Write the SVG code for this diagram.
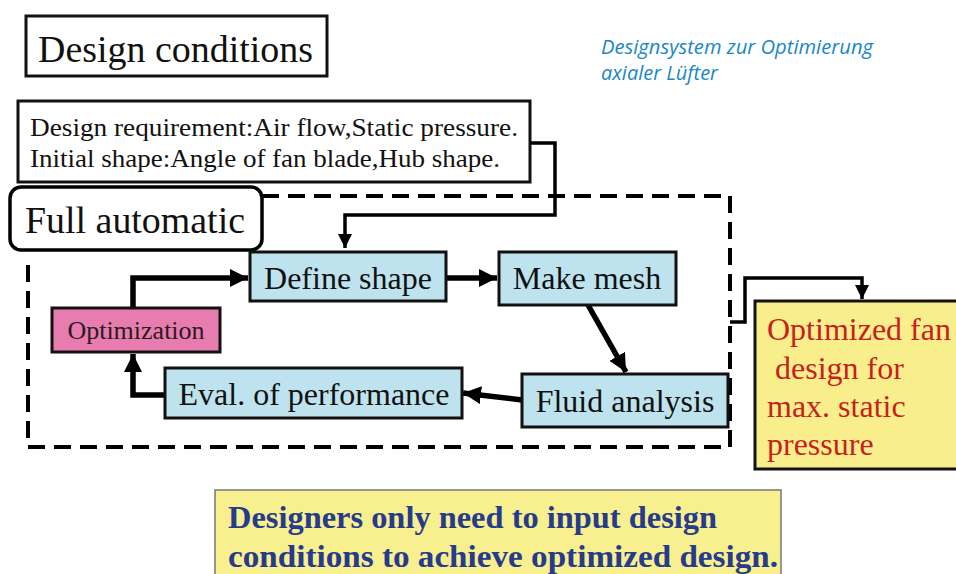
<svg xmlns="http://www.w3.org/2000/svg" width="956" height="574" viewBox="0 0 956 574">
<defs>
<style>
.serif{font-family:"Liberation Serif","Times New Roman",serif;}
.sub{font-family:"Open Sans","Noto Sans",sans-serif;font-style:italic;font-size:20px;fill:#1a87c6;}
.box{stroke:#111;stroke-width:3;}
.blue{fill:#bfe3ee;}
.conn{fill:none;stroke:#000;stroke-linejoin:miter;}
.thick{stroke-width:5.5;}
.thin{stroke-width:3.5;}
</style>
<marker id="ah" markerUnits="userSpaceOnUse" markerWidth="20" markerHeight="18" refX="18" refY="9" orient="auto"><path d="M0,0 L18,9 L0,18 Z" fill="#000"/></marker>
<marker id="ahs" markerUnits="userSpaceOnUse" markerWidth="16" markerHeight="14" refX="14" refY="7" orient="auto"><path d="M0,0 L14,7 L0,14 Z" fill="#000"/></marker>
</defs>
<rect width="956" height="574" fill="#fff"/>

<g id="title">
<rect x="26" y="16" width="301" height="60" fill="#fff" class="box"/>
<text x="38" y="62" class="serif" font-size="38" fill="#111" textLength="275" lengthAdjust="spacingAndGlyphs">Design conditions</text>
</g>

<g id="subtitle">
<text x="601" y="54" class="sub" textLength="272" lengthAdjust="spacingAndGlyphs">Designsystem zur Optimierung</text>
<text x="601" y="80" class="sub" textLength="117" lengthAdjust="spacingAndGlyphs">axialer Lüfter</text>
</g>

<g id="requirements">
<rect x="18" y="101" width="512" height="81" fill="#fff" class="box"/>
<text x="30" y="136" class="serif" font-size="26" fill="#111" textLength="488" lengthAdjust="spacingAndGlyphs">Design requirement:Air flow,Static pressure.</text>
<text x="30" y="167" class="serif" font-size="26" fill="#111" textLength="470" lengthAdjust="spacingAndGlyphs">Initial shape:Angle of fan blade,Hub shape.</text>
</g>

<g id="dashed-frame">
<path d="M262,196 H730 V447 H28 V262" fill="none" stroke="#000" stroke-width="4" stroke-dasharray="17,9"/>
</g>

<g id="full-automatic">
<rect x="10" y="187" width="252" height="63" rx="11" fill="#fff" stroke="#000" stroke-width="3.5"/>
<text x="25" y="233" class="serif" font-size="38" fill="#111" textLength="220" lengthAdjust="spacingAndGlyphs">Full automatic</text>
</g>

<g id="connectors">
<path class="conn thin" d="M530,143 H555 V215 H345 V248" marker-end="url(#ahs)"/>
<path class="conn thick" d="M133,308 V278 H248" marker-end="url(#ah)"/>
<path class="conn thick" d="M446,278 H497" marker-end="url(#ah)"/>
<path class="conn thick" d="M588,305 L626,372" marker-end="url(#ah)"/>
<path class="conn thick" d="M522,400 L463,393" marker-end="url(#ah)"/>
<path class="conn thick" d="M165,395 H133 V354" marker-end="url(#ah)"/>
<path class="conn thin" d="M730,322 H745 V278 H862 V299" marker-end="url(#ahs)"/>
</g>

<g id="define-shape">
<rect x="250" y="252" width="196" height="49" class="box blue"/>
<text x="348" y="289" class="serif" font-size="32" fill="#111" text-anchor="middle">Define shape</text>
</g>

<g id="make-mesh">
<rect x="499" y="252" width="177" height="53" class="box blue"/>
<text x="587" y="289" class="serif" font-size="32" fill="#111" text-anchor="middle">Make mesh</text>
</g>

<g id="optimization">
<rect x="52" y="308" width="168" height="44" fill="#e97cae" class="box"/>
<text x="136" y="339" class="serif" font-size="26" fill="#2a1a22" text-anchor="middle">Optimization</text>
</g>

<g id="eval-performance">
<rect x="165" y="368" width="297" height="50" class="box blue"/>
<text x="314" y="405" class="serif" font-size="32" fill="#111" text-anchor="middle">Eval. of performance</text>
</g>

<g id="fluid-analysis">
<rect x="522" y="374" width="206" height="53" class="box blue"/>
<text x="625" y="412" class="serif" font-size="32" fill="#111" text-anchor="middle">Fluid analysis</text>
</g>

<g id="result">
<rect x="755" y="301" width="210" height="168" fill="#f8ef8c" class="box"/>
<text class="serif" font-size="32" fill="#c81e1e">
<tspan x="767" y="340">Optimized fan</tspan>
<tspan x="767" y="379" xml:space="preserve"> design for</tspan>
<tspan x="767" y="417">max. static</tspan>
<tspan x="767" y="455">pressure</tspan>
</text>
</g>

<g id="note">
<rect x="215" y="490" width="566" height="90" fill="#f8ef8e" stroke="#777" stroke-width="1.5"/>
<text x="228" y="528" class="serif" font-size="32" font-weight="bold" fill="#263b8c" textLength="489" lengthAdjust="spacingAndGlyphs">Designers only need to input design</text>
<text x="228" y="567" class="serif" font-size="32" font-weight="bold" fill="#263b8c" textLength="550" lengthAdjust="spacingAndGlyphs">conditions to achieve optimized design.</text>
</g>
</svg>
